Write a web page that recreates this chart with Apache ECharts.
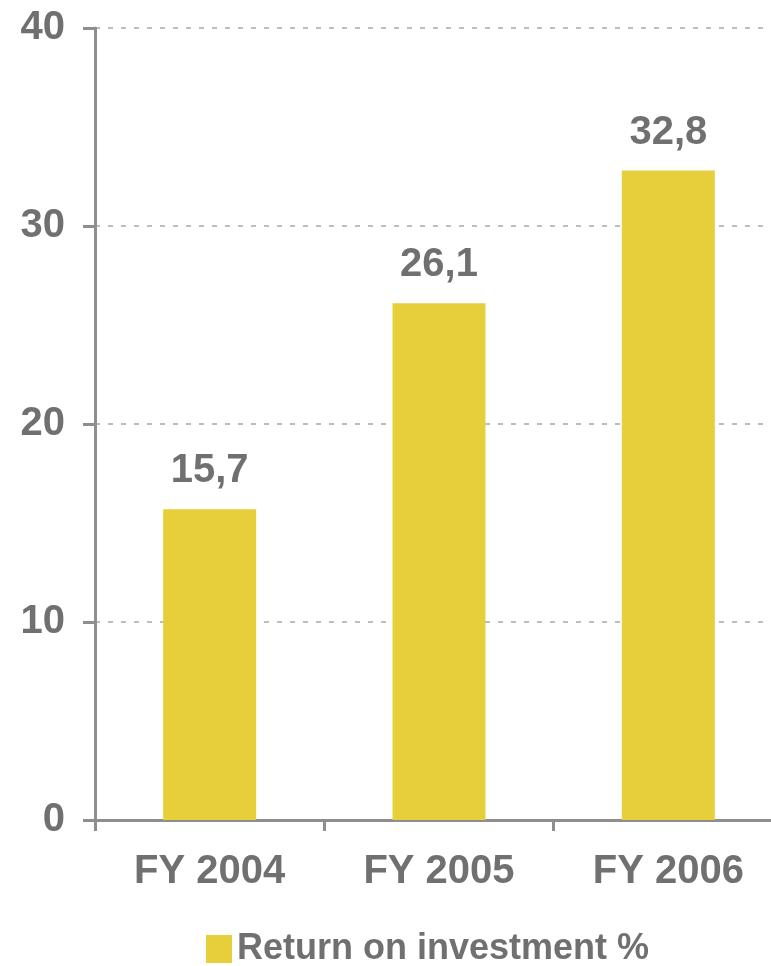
<!DOCTYPE html>
<html>
<head>
<meta charset="utf-8">
<script src="https://cdn.jsdelivr.net/npm/echarts@6/dist/echarts.min.js"></script>
<style>
  html, body { margin: 0; padding: 0; background: #ffffff; overflow: hidden; }
  /* the plot area runs a little past the right edge of the window */
  #chart { width: 783px; height: 966px; }
</style>
</head>
<body>
<div id="chart"></div>
<script>
// Fiscal years and return on investment (%)
const categories = ['FY 2004', 'FY 2005', 'FY 2006'];
const roiValues = [15.7, 26.1, 32.8];
const seriesName = 'Return on investment %';
const yTicks = [0, 10, 20, 30, 40];

const grey = '#707070';
const axisGrey = '#8e8e8e';
const barYellow = '#e6cf3b';
const font = '"Liberation Sans", Arial, sans-serif';

const chart = echarts.init(document.getElementById('chart'));
chart.setOption({
  animation: false,
  backgroundColor: '#ffffff',
  grid: { left: 95, right: 0, top: 28, bottom: 146, containLabel: false },
  legend: {
    data: [seriesName],
    left: 206,
    top: 929,
    padding: 0,
    icon: 'rect',
    itemWidth: 26,
    itemHeight: 28,
    itemGap: 6,
    textStyle: { color: grey, fontSize: 36, lineHeight: 40, fontWeight: 'bold', fontFamily: font }
  },
  xAxis: {
    type: 'category',
    data: categories,
    axisLine: { lineStyle: { color: axisGrey, width: 3 } },
    axisTick: { show: true, length: 11, lineStyle: { color: axisGrey, width: 3 } },
    axisLabel: { color: grey, fontSize: 40, fontWeight: 'bold', fontFamily: font, margin: 32 }
  },
  yAxis: {
    type: 'value',
    min: yTicks[0],
    max: yTicks[yTicks.length - 1],
    interval: 10,
    axisLine: { show: true, lineStyle: { color: axisGrey, width: 3 } },
    axisTick: { show: true, length: 12, lineStyle: { color: axisGrey, width: 3 } },
    axisLabel: { color: grey, fontSize: 40, fontWeight: 'bold', fontFamily: font, margin: 30 },
    splitLine: { show: true, lineStyle: { color: '#a8a8a8', width: 1.5, type: [5, 8] } }
  },
  series: [{
    name: seriesName,
    type: 'bar',
    data: roiValues,
    barWidth: 93,
    itemStyle: { color: barYellow },
    label: {
      show: true,
      position: 'top',
      distance: 18,
      color: grey,
      fontSize: 40,
      fontWeight: 'bold',
      fontFamily: font,
      formatter: p => String(p.value).replace('.', ',')
    }
  }]
});
</script>
</body>
</html>
